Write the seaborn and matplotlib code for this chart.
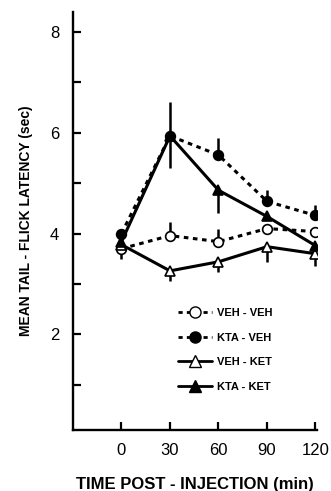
import numpy as np
import pandas as pd
from matplotlib import pyplot as plt
from matplotlib.lines import Line2D
import seaborn as sns

# time points (min)
times = [0, 30, 60, 90, 120]

groups = ["VEH - VEH", "KTA - VEH", "VEH - KET", "KTA - KET"]

# mean tail-flick latency (sec)
veh_veh = [3.7, 3.96, 3.84, 4.1, 4.04]
kta_veh = [4.0, 5.94, 5.56, 4.64, 4.36]
veh_ket = [3.78, 3.26, 3.44, 3.74, 3.6]
kta_ket = [3.84, 5.94, 4.86, 4.34, 3.76]

# one-sided error bars (lower, upper)
veh_veh_lo = [0.2, 0.0, 0.0, 0.0, 0.0]
veh_veh_hi = [0.0, 0.28, 0.26, 0.0, 0.0]
kta_veh_lo = [0.0, 0.0, 0.0, 0.0, 0.0]
kta_veh_hi = [0.0, 0.0, 0.34, 0.22, 0.2]
veh_ket_lo = [0.0, 0.21, 0.2, 0.3, 0.24]
veh_ket_hi = [0.0, 0.0, 0.0, 0.0, 0.0]
kta_ket_lo = [0.0, 0.64, 0.46, 0.0, 0.0]
kta_ket_hi = [0.0, 0.68, 0.0, 0.0, 0.0]

means = [veh_veh, kta_veh, veh_ket, kta_ket]
lows = [veh_veh_lo, kta_veh_lo, veh_ket_lo, kta_ket_lo]
highs = [veh_veh_hi, kta_veh_hi, veh_ket_hi, kta_ket_hi]

markers = ["o", "o", "^", "^"]
faces = ["white", "black", "white", "black"]
dashes = [(0, (1.5, 1.5)), (0, (1.5, 1.5)), "-", "-"]
zorders = [3, 4, 5, 6]

df = pd.DataFrame({
    "time": np.tile(times, len(groups)),
    "latency": np.concatenate(means),
    "group": np.repeat(groups, len(times)),
})

sns.set_style("ticks", {"axes.edgecolor": "black", "text.color": "black",
                        "axes.labelcolor": "black", "xtick.color": "black",
                        "ytick.color": "black"})
plt.rcParams["font.family"] = ["Liberation Sans", "DejaVu Sans"]

fig = plt.figure(figsize=(3.31, 4.91), dpi=100)
ax = fig.add_axes([0.2205, 0.1242, 0.7375, 0.8514])

for i, g in enumerate(groups):
    sub = df[df["group"] == g]
    ax.errorbar(times, means[i], yerr=[lows[i], highs[i]], fmt="none",
                ecolor="black", elinewidth=1.8, capsize=0, zorder=zorders[i] - 0.5)
    sns.lineplot(data=sub, x="time", y="latency", ax=ax, color="black",
                 linewidth=2.2, linestyle=dashes[i], marker=markers[i],
                 markersize=7, markerfacecolor=faces[i], markeredgecolor="black",
                 markeredgewidth=1.2, zorder=zorders[i], legend=False)

ax.set_xlim(-30, 121)
ax.set_ylim(0.1, 8.4)
ax.set_xticks(times)
ax.set_xticklabels([str(t) for t in times])
ax.set_yticks([1, 2, 3, 4, 5, 6, 7, 8])
ax.set_yticklabels(["", "2", "", "4", "", "6", "", "8"])
ax.tick_params(axis="both", direction="in", length=6, width=1.6, labelsize=12,
               color="black", labelcolor="black")
ax.tick_params(axis="x", pad=9)
ax.tick_params(axis="y", pad=10)
for s in ["top", "right"]:
    ax.spines[s].set_visible(False)
for s in ["left", "bottom"]:
    ax.spines[s].set_linewidth(1.7)
    ax.spines[s].set_color("black")

ax.set_xlabel("TIME POST - INJECTION (min)", fontsize=12, fontweight="bold",
              labelpad=14, color="black")
ax.set_ylabel("MEAN TAIL - FLICK LATENCY (sec)", fontsize=10, fontweight="bold",
              labelpad=12, color="black")

handles = [Line2D([0], [0], color="black", linewidth=2, linestyle=dashes[i],
                  marker=markers[i], markersize=8, markerfacecolor=faces[i],
                  markeredgecolor="black") for i in range(len(groups))]
leg = ax.legend(handles, groups, loc="upper left", bbox_to_anchor=(0.39, 0.315),
                frameon=False, handlelength=3.0, handletextpad=0.45, labelspacing=1.3,
                prop={"size": 8, "weight": "bold"})
for t in leg.get_texts():
    t.set_color("black")

fig.savefig("out.png", dpi=100)
